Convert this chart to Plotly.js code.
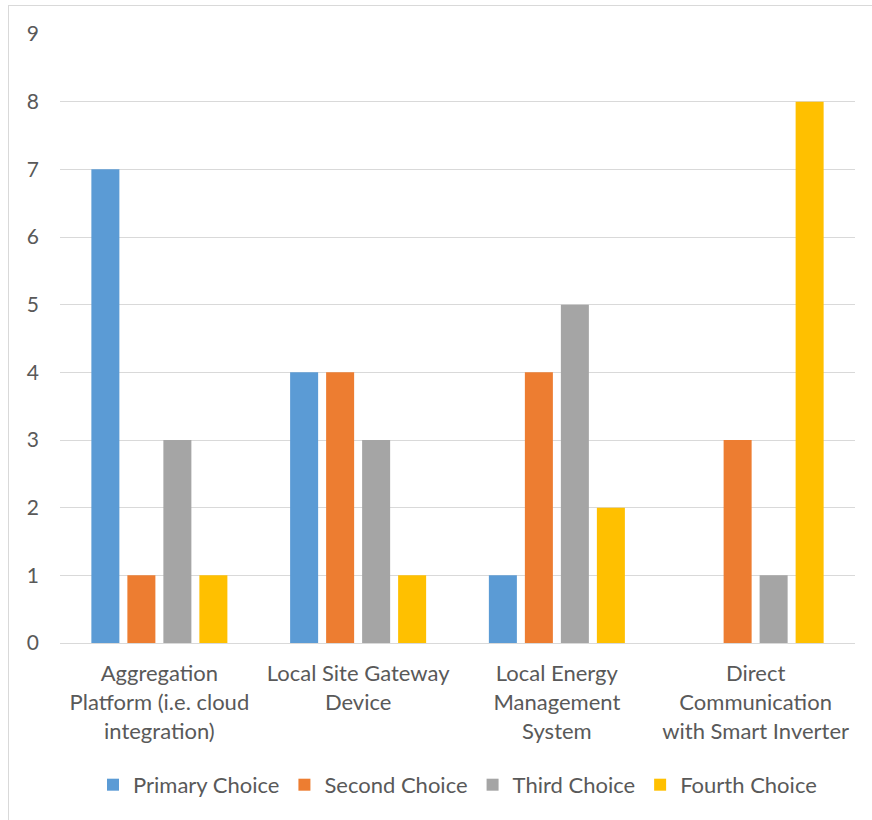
<!DOCTYPE html>
<html>
<head>
<meta charset="utf-8">
<script src="https://cdn.plot.ly/plotly-3.0.1.min.js"></script>
<style>
  html, body { margin: 0; padding: 0; background: #ffffff; }
  #frame { position: absolute; left: 8px; top: 5px; width: 900px; height: 900px;
           border-left: 1px solid #d9d9d9; border-top: 1px solid #d9d9d9; }
  #chart { position: absolute; left: 0; top: 0; width: 872px; height: 820px; }
</style>
</head>
<body>
<div id="frame"></div>
<div id="chart"></div>
<script>
// Integration approach categories
const categories = [
  "Aggregation<br>Platform (i.e. cloud<br>integration)",
  "Local Site Gateway<br>Device",
  "Local Energy<br>Management<br>System",
  "Direct<br>Communication<br>with Smart Inverter"
];

// Number of responses per ranking
const primaryChoice = [7, 4, 1, 0];
const secondChoice  = [1, 4, 4, 3];
const thirdChoice   = [3, 3, 5, 1];
const fourthChoice  = [1, 1, 2, 8];

const seriesNames  = ["Primary Choice", "Second Choice", "Third Choice", "Fourth Choice"];
const seriesValues = [primaryChoice, secondChoice, thirdChoice, fourthChoice];
const seriesColors = ["#5b9bd5", "#ed7d31", "#a5a5a5", "#ffc000"];

const yTicks = [0, 1, 2, 3, 4, 5, 6, 7, 8, 9];

const FONT = "Lato, 'Open Sans', sans-serif";
const TEXT = "#595959";

const traces = seriesNames.map((name, i) => ({
  type: "bar",
  name: name,
  x: categories,
  y: seriesValues[i],
  marker: { color: seriesColors[i], line: { width: 0 } },
  hoverinfo: "name+y"
}));

const layout = {
  width: 872,
  height: 820,
  paper_bgcolor: "rgba(0,0,0,0)",
  plot_bgcolor: "rgba(0,0,0,0)",
  margin: { l: 60, r: 17, t: 34, b: 177 },
  barmode: "group",
  bargap: 0.2755,
  bargroupgap: 0.222,
  font: { family: FONT, size: 22, color: TEXT },
  xaxis: {
    type: "category",
    showgrid: false,
    showline: true,
    linecolor: "#d9d9d9",
    linewidth: 1,
    ticks: "",
    ticklabelstandoff: 11,
    tickfont: { family: FONT, size: 22, color: TEXT },
    fixedrange: true
  },
  yaxis: {
    range: [0, 9],
    tickvals: yTicks,
    ticktext: yTicks.map(String),
    showgrid: true,
    gridcolor: "#d9d9d9",
    gridwidth: 1,
    zeroline: false,
    showline: false,
    ticks: "",
    ticklabelstandoff: 20,
    tickfont: { family: FONT, size: 21, color: TEXT },
    fixedrange: true
  },
  showlegend: true,
  legend: {
    orientation: "h",
    x: 0.5,
    xanchor: "center",
    y: -0.233,
    yanchor: "middle",
    font: { family: FONT, size: 22, color: TEXT },
    itemwidth: 30,
    traceorder: "normal",
    bgcolor: "rgba(0,0,0,0)"
  }
};

Plotly.newPlot("chart", traces, layout, { displayModeBar: false, staticPlot: true });
</script>
</body>
</html>
